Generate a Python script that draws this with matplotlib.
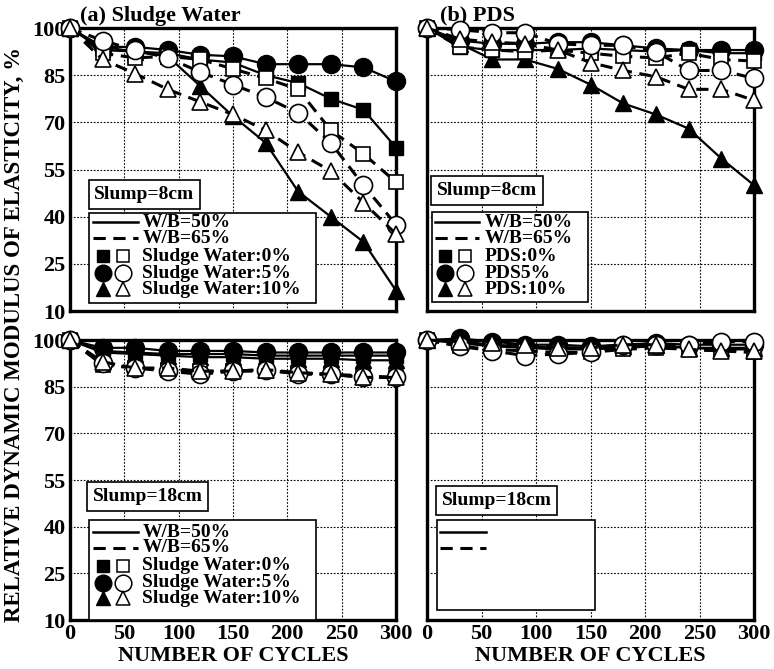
import matplotlib
matplotlib.use("Agg")
import matplotlib.pyplot as plt
from matplotlib.lines import Line2D
from matplotlib.patches import Rectangle

plt.rcParams['font.family'] = ['Liberation Serif', 'DejaVu Serif']
plt.rcParams['font.weight'] = 'bold'
plt.rcParams['axes.labelweight'] = 'bold'

cycles = [0, 30, 60, 90, 120, 150, 180, 210, 240, 270, 300]
y_ticks = [10, 25, 40, 55, 70, 85, 100]
x_ticks = [0, 50, 100, 150, 200, 250, 300]

# (a) sludge water, slump 8 cm
sw8_wb50_0 = [100, 93, 92.5, 92, 90, 89, 85, 82.5, 77.5, 74, 62]
sw8_wb65_0 = [100, 92, 90.5, 91, 90, 87, 84, 80.5, 67.5, 60, 51]
sw8_wb50_5 = [100, 94, 94, 93, 91.5, 91, 88.5, 88.5, 88.5, 87.5, 83]
sw8_wb65_5 = [100, 96, 93, 90.5, 86, 82, 78, 73, 63.5, 50, 37.5]
sw8_wb50_10 = [100, 94, 92.5, 91, 81.5, 72, 63.5, 48, 40, 32, 16.5]
sw8_wb65_10 = [100, 90, 85.5, 80.5, 76.5, 72.5, 67.5, 60.5, 54.5, 44.5, 34.5]

# (b) PDS, slump 8 cm
pds8_wb50_0 = [100, 94, 93, 93, 93, 93.5, 93, 92.5, 93, 92, 92]
pds8_wb65_0 = [100, 94, 93, 92.5, 93, 92, 91, 90.5, 92, 90, 89.5]
pds8_wb50_5 = [100, 96, 95, 95, 95.5, 95.5, 94.5, 93.5, 93, 93, 93]
pds8_wb65_5 = [100, 99.5, 98.5, 98.5, 95, 94.5, 94.5, 92.5, 86.5, 86.5, 84]
pds8_wb50_10 = [100, 95, 90, 90, 87, 82, 76, 72.5, 68, 58.5, 50]
pds8_wb65_10 = [100, 96.5, 95.5, 95, 93, 89, 86.5, 84.5, 80.5, 80.5, 77]

# (a) sludge water, slump 18 cm
sw18_wb50_0 = [100, 96.5, 96, 95.5, 95.5, 95.5, 95, 95, 95, 95, 95]
sw18_wb65_0 = [100, 92, 91, 90.5, 90, 90, 90, 89.5, 89, 88.5, 88]
sw18_wb50_5 = [100, 97.5, 97.5, 96.5, 96.5, 96.5, 96, 96, 96, 96, 96]
sw18_wb65_5 = [100, 92.5, 91, 90, 89, 90, 90.5, 89, 89, 88, 88]
sw18_wb50_10 = [100, 96, 95.5, 95, 94.5, 94.5, 94, 94, 94, 93.5, 93.5]
sw18_wb65_10 = [100, 93, 91, 91, 90, 90, 90.5, 89.5, 89, 88, 88]

# (b) PDS, slump 18 cm
pds18_wb50_0 = [100, 99, 98, 97.5, 97, 97, 97.5, 98, 97.5, 97, 97]
pds18_wb65_0 = [100, 98, 97, 96.5, 96, 96, 97, 97.5, 97, 96.5, 96]
pds18_wb50_5 = [100, 100.5, 99.5, 98.5, 98.5, 98, 98.5, 99, 98.5, 98.5, 98.5]
pds18_wb65_5 = [100, 98, 96.5, 95, 95.5, 96, 98.5, 98.5, 98.5, 99.5, 99.5]
pds18_wb50_10 = [100, 99.5, 98.5, 98, 97.5, 97.5, 98, 98.5, 97.5, 97.5, 97.5]
pds18_wb65_10 = [100, 99.5, 99, 98.5, 97.5, 97.5, 98.5, 98.5, 97, 96.5, 96.5]

sw_labels = ['Sludge Water:0%', 'Sludge Water:5%', 'Sludge Water:10%']
pds_labels = ['PDS:0%', 'PDS5%', 'PDS:10%']
wb_labels = ['W/B=50%', 'W/B=65%']

MARKERS = ['s', 'o', '^']
MSIZE = {'s': 10, 'o': 13, '^': 11}
KEY_FS = 14


def draw_panel(ax, solid, dashed):
    # solid = W/B 50% (filled markers), dashed = W/B 65% (open markers)
    for vals, m in zip(solid, MARKERS):
        ax.plot(cycles, vals, '-', color='black', lw=1.6, marker=m, ms=MSIZE[m],
                mfc='black', mec='black', clip_on=False, zorder=3)
    for vals, m in zip(dashed, MARKERS):
        ax.plot(cycles, vals, '--', color='black', lw=2.2, dashes=(4, 2.5), marker=m,
                ms=MSIZE[m], mfc='white', mec='black', mew=1.2, clip_on=False, zorder=4)
    ax.set_xlim(0, 300)
    ax.set_ylim(10, 100)
    ax.set_xticks(x_ticks)
    ax.set_yticks(y_ticks)
    ax.grid(True, color='black', linestyle=(0, (1.5, 1.5)), lw=0.8)
    ax.tick_params(length=0, labelsize=16, pad=3)
    for s in ax.spines.values():
        s.set_linewidth(2.4)


def draw_key(ax, slump, slump_x, slump_y, box, line_x, mark_x, text_x, labels):
    ax.text(slump_x, slump_y, slump, transform=ax.transAxes, fontsize=KEY_FS,
            ha='left', va='center', zorder=6,
            bbox=dict(boxstyle='square,pad=0.3', fc='white', ec='black', lw=1.2))
    x0, y0, x1, y1 = box
    ax.add_patch(Rectangle((x0, y0), x1 - x0, y1 - y0, transform=ax.transAxes,
                           fc='white', ec='black', lw=1.2, zorder=5, clip_on=False))
    rows = [0.314, 0.258, 0.194, 0.134, 0.077]
    styles = ['-', '--']
    for i in range(2):
        ax.add_line(Line2D(line_x, [rows[i]] * 2, transform=ax.transAxes,
                           color='black', lw=1.8 + 0.4 * i, linestyle=styles[i],
                           dashes=(4, 2.5) if i else (None, None), zorder=6))
        if labels:
            ax.text(text_x, rows[i], wb_labels[i], transform=ax.transAxes,
                    fontsize=KEY_FS, va='center', zorder=6)
    if not labels:
        return
    for j, m in enumerate(MARKERS):
        y = rows[j + 2]
        ax.add_line(Line2D([mark_x[0]], [y], transform=ax.transAxes, marker=m,
                           ms=MSIZE[m] - 1, mfc='black', mec='black', ls='none', zorder=6))
        ax.add_line(Line2D([mark_x[1]], [y], transform=ax.transAxes, marker=m,
                           ms=MSIZE[m] - 1, mfc='white', mec='black', mew=1.1,
                           ls='none', zorder=6))
        ax.text(text_x, y, labels[j], transform=ax.transAxes, fontsize=KEY_FS,
                va='center', zorder=6)


fig = plt.figure(figsize=(7.74, 6.69), dpi=100)
ax_tl = fig.add_axes([0.0904, 0.5351, 0.4212, 0.4230])
ax_tr = fig.add_axes([0.5517, 0.5351, 0.4225, 0.4230])
ax_bl = fig.add_axes([0.0904, 0.0732, 0.4212, 0.4185])
ax_br = fig.add_axes([0.5517, 0.0732, 0.4225, 0.4185])

draw_panel(ax_tl, [sw8_wb50_0, sw8_wb50_5, sw8_wb50_10],
           [sw8_wb65_0, sw8_wb65_5, sw8_wb65_10])
draw_panel(ax_tr, [pds8_wb50_0, pds8_wb50_5, pds8_wb50_10],
           [pds8_wb65_0, pds8_wb65_5, pds8_wb65_10])
draw_panel(ax_bl, [sw18_wb50_0, sw18_wb50_5, sw18_wb50_10],
           [sw18_wb65_0, sw18_wb65_5, sw18_wb65_10])
draw_panel(ax_br, [pds18_wb50_0, pds18_wb50_5, pds18_wb50_10],
           [pds18_wb65_0, pds18_wb65_5, pds18_wb65_10])

for ax in (ax_tl, ax_tr):
    ax.tick_params(labelbottom=False)
for ax in (ax_tr, ax_br):
    ax.tick_params(labelleft=False)
for ax in (ax_bl, ax_br):
    ax.set_xlabel('NUMBER OF CYCLES', fontsize=16, labelpad=1)

ax_tl.text(0.03, 1.025, '(a) Sludge Water', transform=ax_tl.transAxes,
           fontsize=16, va='baseline')
ax_tr.text(0.04, 1.025, '(b) PDS', transform=ax_tr.transAxes,
           fontsize=16, va='baseline')

draw_key(ax_tl, 'Slump=8cm', 0.075, 0.412, (0.058, 0.028, 0.755, 0.346),
         [0.07, 0.21], [0.10, 0.163], 0.222, sw_labels)
draw_key(ax_tr, 'Slump=8cm', 0.03, 0.426, (0.015, 0.032, 0.493, 0.350),
         [0.024, 0.16], [0.055, 0.116], 0.177, pds_labels)
draw_key(ax_bl, 'Slump=18cm', 0.07, 0.441, (0.058, 0.0, 0.755, 0.357),
         [0.07, 0.21], [0.10, 0.163], 0.222, sw_labels)
draw_key(ax_br, 'Slump=18cm', 0.045, 0.426, (0.03, 0.036, 0.514, 0.357),
         [0.04, 0.18], None, None, None)

fig.text(0.019, 0.5, 'RELATIVE DYNAMIC MODULUS OF ELASTICITY, %', rotation=90,
         fontsize=16.5, ha='center', va='center')

fig.savefig('out.png', dpi=100)
